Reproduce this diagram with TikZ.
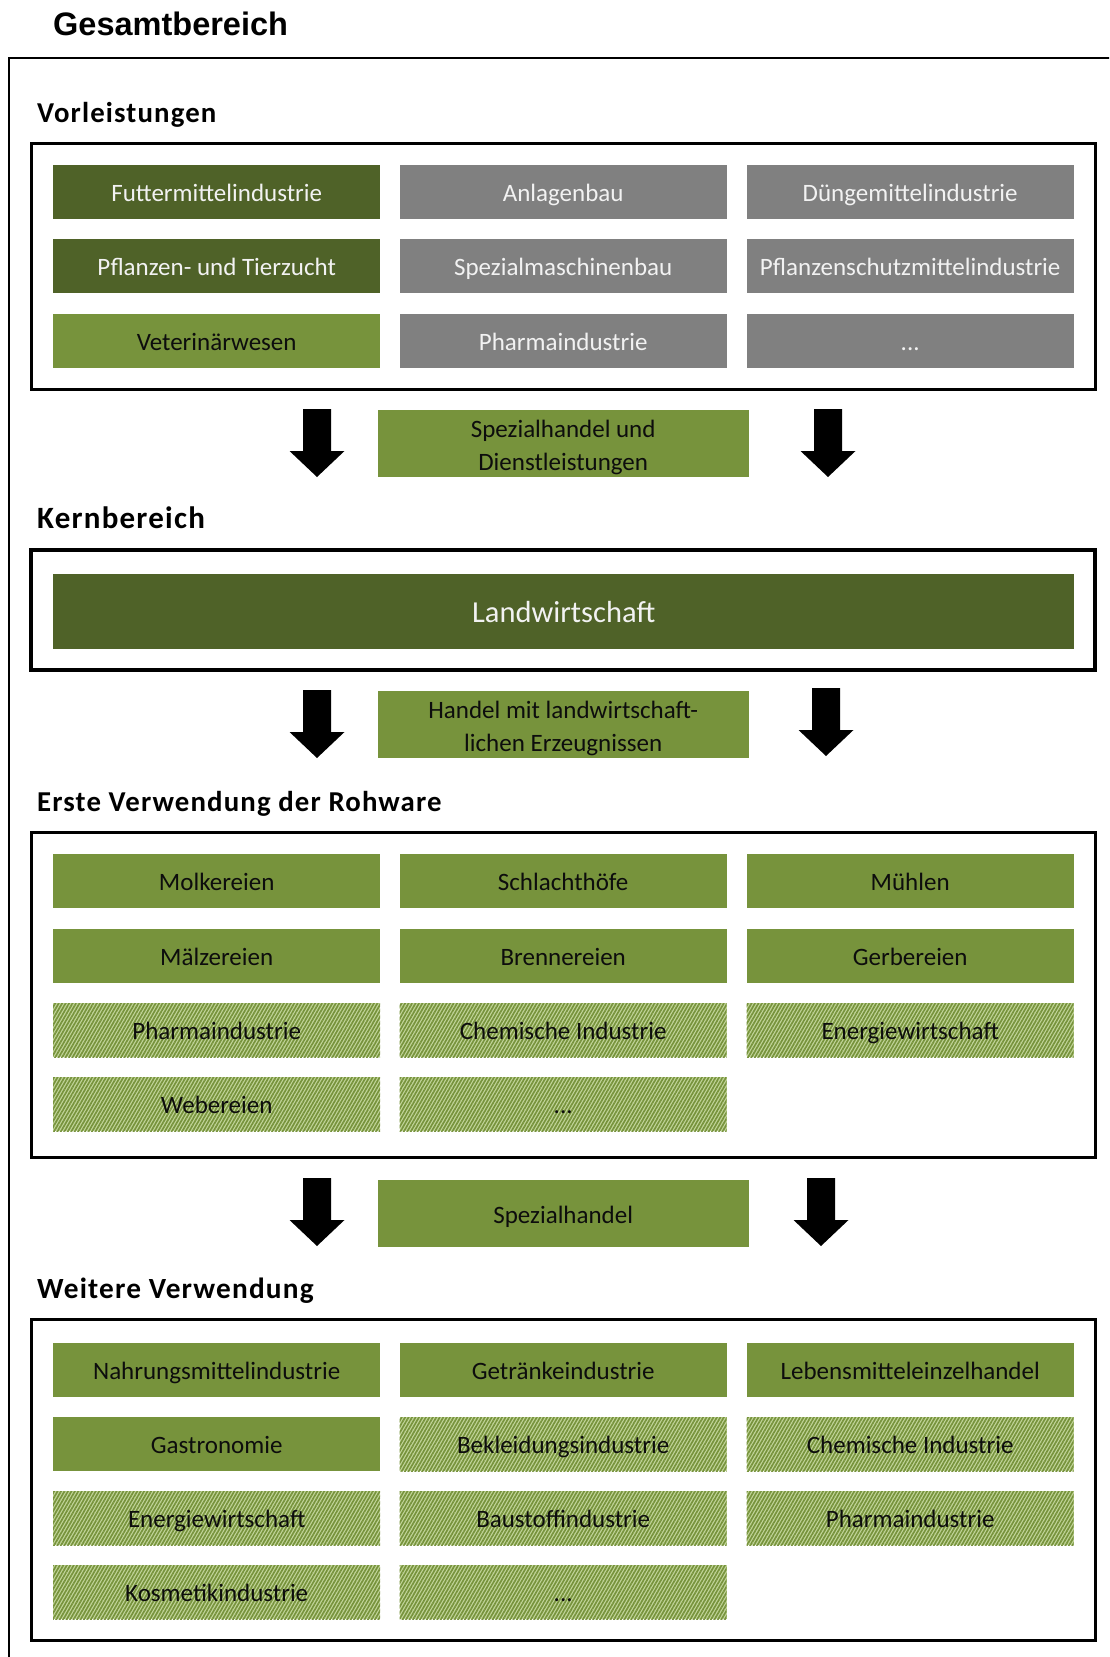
\documentclass[tikz,border=0pt]{standalone}
\usepackage{fontspec}
\setmainfont{Carlito}
\newfontfamily\titlefont{Liberation Sans}
\newfontfamily\labelfont[LetterSpace=4]{Carlito}
\usetikzlibrary{patterns.meta}
\definecolor{dkgreen}{HTML}{4F6228}
\definecolor{mdgreen}{HTML}{77933C}
\definecolor{ltgreen}{HTML}{C3D69B}
\definecolor{boxgray}{HTML}{808080}
\definecolor{lighttext}{HTML}{F2F2F2}
\definecolor{darktext}{HTML}{0D0D0D}
\newcommand\twolines[2]{\raisebox{-4pt}[\height][\depth]{\begin{tabular}{@{}c@{}}#1\\#2\end{tabular}}}
\begin{document}
\begin{tikzpicture}[x=1pt,y=-1pt,
  cell/.style={anchor=north west, minimum width=327pt, minimum height=54pt, inner sep=0pt, text height=20pt, text depth=1pt, font=\fontsize{25}{33}\selectfont},
  darkcell/.style={cell, fill=dkgreen, text=lighttext},
  graycell/.style={cell, fill=boxgray, text=lighttext},
  greencell/.style={cell, fill=mdgreen, text=darktext},
  hatchcell/.style={cell, fill=ltgreen, text=darktext, postaction={pattern color=mdgreen, pattern={Lines[angle=60,distance=3pt,line width=1.7pt]}}},
  midcell/.style={anchor=north west, minimum width=371pt, minimum height=67pt, inner sep=0pt, fill=mdgreen, text=darktext, font=\fontsize{25}{33}\selectfont},
  sectlabel/.style={anchor=base west, inner sep=0pt, font=\labelfont\fontsize{28.8}{34}\selectfont\bfseries},
  sectbox/.style={line width=3pt},
  darrow/.pic={\fill[black] (-14,0) -- (14,0) -- (14,42) -- (27.5,42) -- (0,68) -- (-27.5,42) -- (-14,42) -- cycle;}
]
\useasboundingbox (0,0) rectangle (1109,1657);
\clip (0,0) rectangle (1109,1657);

% title and outer frame
\node[anchor=base west, inner sep=0pt, font=\titlefont\fontsize{32.5}{38}\selectfont\bfseries] (title) at (53,35) {Gesamtbereich};
\draw[line width=2pt] (9,58) rectangle (1140,1700);

% Vorleistungen
\node[sectlabel] (lvor) at (37,122) {Vorleistungen};
\draw[sectbox] (31,143) rectangle (1095,389);
\node[darkcell] (v11) at (53,165) {Futtermittelindustrie};
\node[graycell] (v12) at (399.5,165) {Anlagenbau};
\node[graycell] (v13) at (746.5,165) {Düngemittelindustrie};
\node[darkcell] (v21) at (53,239) {Pflanzen- und Tierzucht};
\node[graycell] (v22) at (399.5,239) {Spezialmaschinenbau};
\node[graycell] (v23) at (746.5,239) {Pflanzenschutzmittelindustrie};
\node[greencell] (v31) at (53,314) {Veterinärwesen};
\node[graycell] (v32) at (399.5,314) {Pharmaindustrie};
\node[graycell] (v33) at (746.5,314) {...};

% transition 1
\pic at (317,409) {darrow};
\pic at (828,409) {darrow};
\node[midcell] (m1) at (377.5,410) {\twolines{Spezialhandel und}{Dienstleistungen}};

% Kernbereich
\node[sectlabel, font=\labelfont\fontsize{31}{36}\selectfont\bfseries] (lkern) at (37,528) {Kernbereich};
\draw[line width=4pt] (31,550) rectangle (1095,670);
\node[anchor=north west, minimum width=1021pt, minimum height=75pt, inner sep=0pt, fill=dkgreen, text=lighttext, text height=23pt, text depth=1pt, font=\fontsize{30.5}{36}\selectfont] (land) at (53,574) {Landwirtschaft};

% transition 2
\pic at (317,690) {darrow};
\pic at (826,688) {darrow};
\node[midcell] (m2) at (377.5,691) {\twolines{Handel mit landwirtschaft-}{lichen Erzeugnissen}};

% Erste Verwendung
\node[sectlabel] (lerst) at (37,811) {Erste Verwendung der Rohware};
\draw[sectbox] (31,832) rectangle (1095,1157);
\node[greencell] (e11) at (53,854) {Molkereien};
\node[greencell] (e12) at (399.5,854) {Schlachthöfe};
\node[greencell] (e13) at (746.5,854) {Mühlen};
\node[greencell] (e21) at (53,929) {Mälzereien};
\node[greencell] (e22) at (399.5,929) {Brennereien};
\node[greencell] (e23) at (746.5,929) {Gerbereien};
\node[hatchcell] (e31) at (53,1003) {Pharmaindustrie};
\node[hatchcell] (e32) at (399.5,1003) {Chemische Industrie};
\node[hatchcell] (e33) at (746.5,1003) {Energiewirtschaft};
\node[hatchcell] (e41) at (53,1077) {Webereien};
\node[hatchcell] (e42) at (399.5,1077) {...};

% transition 3
\pic at (317,1178) {darrow};
\pic at (821,1178) {darrow};
\node[midcell, text height=20pt, text depth=1pt] (m3) at (377.5,1180) {Spezialhandel};

% Weitere Verwendung
\node[sectlabel, font=\labelfont\fontsize{29.3}{34}\selectfont\bfseries] (lweit) at (37,1298) {Weitere Verwendung};
\draw[sectbox] (31,1319) rectangle (1095,1640);
\node[greencell] (w11) at (53,1343) {Nahrungsmittelindustrie};
\node[greencell] (w12) at (399.5,1343) {Getränkeindustrie};
\node[greencell] (w13) at (746.5,1343) {Lebensmitteleinzelhandel};
\node[greencell] (w21) at (53,1417) {Gastronomie};
\node[hatchcell] (w22) at (399.5,1417) {Bekleidungsindustrie};
\node[hatchcell] (w23) at (746.5,1417) {Chemische Industrie};
\node[hatchcell] (w31) at (53,1491) {Energiewirtschaft};
\node[hatchcell] (w32) at (399.5,1491) {Baustoffindustrie};
\node[hatchcell] (w33) at (746.5,1491) {Pharmaindustrie};
\node[hatchcell] (w41) at (53,1565) {Kosmetikindustrie};
\node[hatchcell] (w42) at (399.5,1565) {...};
\end{tikzpicture}
\end{document}
